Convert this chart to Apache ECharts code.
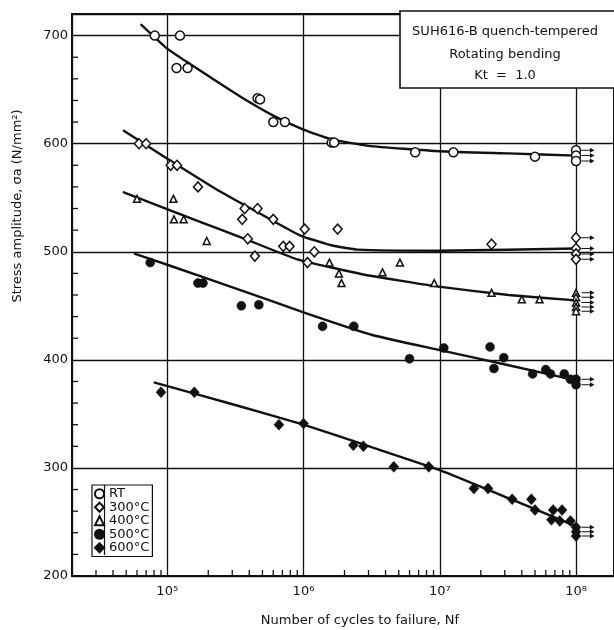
<!DOCTYPE html>
<html><head><meta charset="utf-8">
<script src="https://cdn.jsdelivr.net/npm/echarts@6/dist/echarts.min.js"></script>
<style>html,body{margin:0;padding:0;background:#fff}#c{width:614px;height:630px}</style>
</head><body><div id="c"></div>
<script>
// ---- data: [cycles to failure, stress amplitude N/mm2] ----
const seriesNames = ['RT', '300°C', '400°C', '500°C', '600°C'];
const runoutCycles = 1e8;

const rtPoints = [[8.1e4,700],[1.24e5,700],[1.17e5,670],[1.41e5,670],[4.6e5,642],[4.8e5,641],
  [6.0e5,620],[7.3e5,620],[1.61e6,601],[1.68e6,601],[6.6e6,592],[1.26e7,592],[5.0e7,588]];
const rtRunouts = [594, 589, 584];
const rtFit = [[6.46e4,710],[1e5,688],[1.5e5,673],[2.1e5,661],[3.5e5,643],[6e5,626],[1e6,613],[1.6e6,604],
  [3e6,598],[1e7,593],[3.2e7,591],[1e8,589]];

const t300Points = [[6.2e4,600],[7.0e4,600],[1.06e5,580],[1.18e5,580],[1.68e5,560],[3.55e5,530],
  [3.7e5,540],[4.6e5,540],[6.0e5,530],[3.9e5,512],[4.4e5,496],[7.1e5,505],[7.9e5,505],
  [1.02e6,521],[1.78e6,521],[1.2e6,500],[1.07e6,490],[2.4e7,507]];
const t300Runouts = [513, 503, 498, 493];
const t300Fit = [[4.8e4,612],[9.5e4,588],[2.5e5,555],[5e5,534],[9.5e5,515],[1.6e6,506],
  [2.5e6,502],[1e7,501],[1e8,503]];

const t400Points = [[6.0e4,549],[1.11e5,549],[1.12e5,530],[1.32e5,530],[1.95e5,510],[1.55e6,490],
  [1.82e6,480],[1.9e6,471],[3.8e6,481],[5.1e6,490],[9.1e6,471],[2.4e7,462],[4.0e7,456],[5.4e7,456]];
const t400Runouts = [462, 458, 453, 449, 445];
const t400Fit = [[4.8e4,555],[1.8e5,527],[3.7e5,512],[9e5,493],[2.75e6,479],[9.5e6,468],
  [3.2e7,460],[1e8,455]];

const t500Points = [[7.5e4,490],[1.68e5,471],[1.83e5,471],[3.5e5,450],[4.7e5,451],[1.38e6,431],
  [2.34e6,431],[6.0e6,401],[1.07e7,411],[2.34e7,412],[2.95e7,402],[2.5e7,392],[4.8e7,387],
  [6.0e7,391],[6.5e7,387],[8.2e7,387],[9.1e7,382]];
const t500Runouts = [382, 377];
const t500Fit = [[5.8e4,498],[1e5,488],[3.2e5,466],[1e6,444],[3.2e6,423],[1e7,409],
  [3.2e7,395],[1e8,381]];

const t600Points = [[9.0e4,370],[1.58e5,370],[6.6e5,340],[1.0e6,341],[2.32e6,321],[2.75e6,320],
  [4.6e6,301],[8.3e6,301],[1.78e7,281],[2.26e7,281],[3.4e7,271],[4.7e7,271],[5.0e7,261],
  [6.8e7,261],[7.9e7,261],[6.6e7,252],[7.6e7,251],[9.1e7,251]];
const t600Runouts = [245, 241, 237];
const t600Fit = [[8.1e4,379],[3.2e5,358],[1e6,340],[3.2e6,319],[1e7,298],[3.2e7,272],[1e8,246]];

const xMinorTicks = [3e4,4e4,5e4,6e4,7e4,8e4,9e4,2e5,3e5,4e5,5e5,6e5,7e5,8e5,9e5,
  2e6,3e6,4e6,5e6,6e6,7e6,8e6,9e6,2e7,3e7,4e7,5e7,6e7,7e7,8e7,9e7];
const yMinorTicks = [220,240,260,280,320,340,360,380,420,440,460,480,520,540,560,580,620,640,660,680];

const titleLines = ['SUH616-B quench-tempered', 'Rotating bending', 'Kt  =  1.0'];
const xTitle = 'Number of cycles to failure, Nf';
const yTitle = 'Stress amplitude, σa (N/mm²)';

// ---- chart ----
const FONT = 'DejaVu Sans';
const INK = '#111';
const sup = ['⁰','¹','²','³','⁴','⁵','⁶','⁷','⁸','⁹'];
const xMin = 2e4, xMax = 1.9e8, yMin = 200, yMax = 720;

const groups = [
  {name: seriesNames[0], pts: rtPoints, ro: rtRunouts, fit: rtFit, symbol: 'circle', size: 9, hollow: true},
  {name: seriesNames[1], pts: t300Points, ro: t300Runouts, fit: t300Fit, symbol: 'diamond', size: [9,10], hollow: true},
  {name: seriesNames[2], pts: t400Points, ro: t400Runouts, fit: t400Fit, symbol: 'triangle', size: 7, hollow: true},
  {name: seriesNames[3], pts: t500Points, ro: t500Runouts, fit: t500Fit, symbol: 'circle', size: 9, hollow: false},
  {name: seriesNames[4], pts: t600Points, ro: t600Runouts, fit: t600Fit, symbol: 'diamond', size: [10,11], hollow: false}
];

const series = [];
groups.forEach(g => {
  series.push({
    type: 'line', data: g.fit, smooth: 0.15, showSymbol: false, symbol: 'none',
    lineStyle: {color: INK, width: 2.4, join: 'round', cap: 'round'}, z: 2, silent: true, legendHoverLink: false
  });
});
groups.forEach(g => {
  series.push({
    name: g.name, type: 'scatter',
    data: g.pts.concat(g.ro.map(s => [runoutCycles, s])),
    symbol: g.symbol, symbolSize: g.size,
    itemStyle: g.hollow ? {color: '#fff', borderColor: INK, borderWidth: 1.5, opacity: 1} : {color: INK, borderColor: INK, borderWidth: 0.5, opacity: 1},
    z: 4
  });
  series.push({
    type: 'scatter', data: g.ro.map(s => [runoutCycles, s]),
    symbol: 'path://M0,2 L9,2 L9,0 L14,2.5 L9,5 L9,3 L0,3 Z', symbolKeepAspect: false,
    symbolSize: [13, 5], symbolOffset: [12, 0], itemStyle: {color: INK, opacity: 1}, z: 3, silent: true
  });
});
series.push({
  type: 'scatter', data: xMinorTicks.map(v => [v, yMin]), symbol: 'rect',
  symbolSize: [1.3, 6], symbolOffset: [0, -3], itemStyle: {color: INK, opacity: 1}, z: 5, silent: true, clip: false
});
series.push({
  type: 'scatter', data: yMinorTicks.map(v => [xMin, v]), symbol: 'rect',
  symbolSize: [6, 1.3], symbolOffset: [3, 0], itemStyle: {color: INK, opacity: 1}, z: 5, silent: true, clip: false
});

const chart = echarts.init(document.getElementById('c'), null, {renderer: 'canvas'});
chart.setOption({
  animation: false,
  backgroundColor: '#fff',
  textStyle: {fontFamily: FONT, color: INK},
  grid: {left: 72, top: 14, right: -3, bottom: 54, show: true, borderColor: INK, borderWidth: 2},
  xAxis: {
    type: 'log', logBase: 10, min: xMin, max: xMax,
    axisLine: {show: true, lineStyle: {color: INK, width: 2}},
    axisTick: {show: false},
    splitLine: {show: true, lineStyle: {color: INK, width: 1.3}},
    axisLabel: {
      color: INK, fontFamily: FONT, fontSize: 13, margin: 9, showMinLabel: false, showMaxLabel: false,
      formatter: v => { const e = Math.round(Math.log10(v)); return Math.abs(Math.log10(v) - e) < 1e-6 ? '10' + sup[e] : ''; }
    }
  },
  yAxis: {
    type: 'value', min: yMin, max: yMax, interval: 100,
    axisLine: {show: true, lineStyle: {color: INK, width: 2}},
    axisTick: {show: false},
    splitLine: {show: true, lineStyle: {color: INK, width: 1.3}},
    axisLabel: {color: INK, fontFamily: FONT, fontSize: 13, margin: 4, showMaxLabel: false}
  },
  legend: {
    data: seriesNames, orient: 'vertical', left: 92, top: 485,
    padding: [2, 3, 2, 2], itemGap: 0, itemWidth: 9, itemHeight: 9,
    borderColor: INK, borderWidth: 1.2, backgroundColor: '#fff',
    textStyle: {color: INK, fontFamily: FONT, fontSize: 13, lineHeight: 13.5}
  },
  graphic: [
    {type: 'line', shape: {x1: 104.5, y1: 485, x2: 104.5, y2: 555}, style: {stroke: INK, lineWidth: 1.2}, z: 100},
    {type: 'rect', shape: {x: 400, y: 11, width: 230, height: 77}, style: {fill: '#fff', stroke: INK, lineWidth: 1.6}, z: 100},
    {type: 'text', x: 505, y: 32, style: {text: titleLines[0], font: '13px ' + FONT, fill: INK, textAlign: 'center', textVerticalAlign: 'middle'}, z: 101},
    {type: 'text', x: 505, y: 55, style: {text: titleLines[1], font: '13px ' + FONT, fill: INK, textAlign: 'center', textVerticalAlign: 'middle'}, z: 101},
    {type: 'text', x: 505, y: 76, style: {text: titleLines[2], font: '13px ' + FONT, fill: INK, textAlign: 'center', textVerticalAlign: 'middle'}, z: 101},
    {type: 'text', x: 360, y: 621, style: {text: xTitle, font: '13px ' + FONT, fill: INK, textAlign: 'center', textVerticalAlign: 'middle'}, z: 101},
    {type: 'text', x: 18, y: 206, rotation: Math.PI / 2, style: {text: yTitle, font: '13px ' + FONT, fill: INK, textAlign: 'center', textVerticalAlign: 'middle'}, z: 101}
  ],
  series: series
});
</script>
</body></html>
